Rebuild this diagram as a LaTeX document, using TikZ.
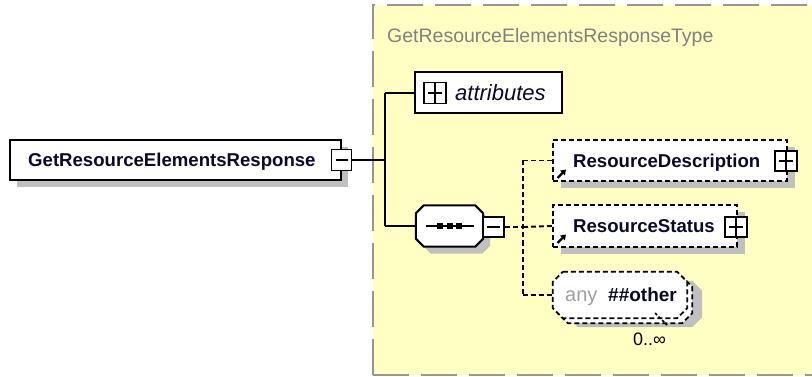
\documentclass[tikz,border=0pt]{standalone}
\usepackage{fontspec}
\setmainfont{Liberation Sans}
\usetikzlibrary{shadows,arrows.meta,calc}
\definecolor{bgyellow}{RGB}{255,255,196}
\definecolor{framegray}{RGB}{150,150,150}
\definecolor{shadowgray}{RGB}{192,192,192}
\definecolor{titlegray}{RGB}{128,128,128}
\definecolor{anygray}{RGB}{160,160,160}
\definecolor{namecol}{RGB}{10,10,40}
% octagon drawn on the border of a named node: options, node, chamfer, offset
\newcommand{\octshape}[4]{\path[#1] ($(#2.north west)+(#3,0)+(#4)$) -- ($(#2.north east)+(-#3,0)+(#4)$) -- ($(#2.north east)+(0,#3)+(#4)$) -- ($(#2.south east)+(0,-#3)+(#4)$) -- ($(#2.south east)+(-#3,0)+(#4)$) -- ($(#2.south west)+(#3,0)+(#4)$) -- ($(#2.south west)+(0,-#3)+(#4)$) -- ($(#2.north west)+(0,#3)+(#4)$) -- cycle;}
\begin{document}
\begin{tikzpicture}[x=1pt,y=-1pt,
  shad/.style={drop shadow={shadow xshift=7pt,shadow yshift=-7pt,opacity=1,fill=shadowgray}},
  elem/.style={draw=black,line width=2pt,fill=white,rectangle,inner sep=0pt},
  refelem/.style={elem,dash pattern=on 5pt off 3pt,line width=1.9pt},
  pmbox/.style={draw=black,line width=1.9pt,fill=white,rectangle,inner sep=0pt,minimum width=21pt,minimum height=20pt},
  minusbox/.style={pmbox,path picture={\draw[line width=1.8pt] ($(path picture bounding box.west)+(4,0)$) -- ($(path picture bounding box.east)+(-4,0)$);}},
  plusbox/.style={pmbox,path picture={\draw[line width=1.8pt] ($(path picture bounding box.west)+(4,0)$) -- ($(path picture bounding box.east)+(-4,0)$);
     \draw[line width=1.8pt] ($(path picture bounding box.north)+(0,-3.5)$) -- ($(path picture bounding box.south)+(0,3.5)$);}},
  namefont/.style={font=\bfseries\fontsize{18.6}{20}\selectfont,text=namecol,inner sep=0pt,anchor=base west},
  conn/.style={draw=black,line width=2pt},
  dconn/.style={draw=black,line width=1.9pt,dash pattern=on 5pt off 3pt},
  holder/.style={rectangle,inner sep=0pt},
  icon/.style={line width=2.4pt,-{Triangle[length=5pt,width=6.5pt]}}
]
\useasboundingbox (0,0) rectangle (812,377);
\clip (0,0) rectangle (812,377);

% complex type background
\path[fill=bgyellow] (373,5) rectangle (840,375);
\draw[framegray,line width=2.2pt,dash pattern=on 36pt off 12pt] (373,375) -- (373,5) -- (840,5);
\draw[framegray,line width=2.2pt,dash pattern=on 36pt off 12pt] (373,375) -- (840,375);
\node[font=\fontsize{19.5}{20}\selectfont,text=titlegray,inner sep=0pt,anchor=base west] (title) at (387,43) {GetResourceElementsResponseType};

% main element
\node[elem,shad,minimum width=331pt,minimum height=40pt] (main) at (175.5,160) {};
\node[namefont] (mainl) at (28,167) {GetResourceElementsResponse};
\node[minusbox,minimum width=20pt,minimum height=21pt] (mainm) at (341.5,160) {};

% attributes
\node[elem,minimum width=147pt,minimum height=41pt] (attr) at (488.5,93) {};
\node[plusbox,minimum width=22pt,minimum height=21pt] (attrp) at (435,93) {};
\node[font=\itshape\fontsize{22}{24}\selectfont,text=namecol,inner sep=0pt,anchor=base west] (attrl) at (455,100.5) {attributes};

% sequence
\node[holder,minimum width=67pt,minimum height=41pt] (seq) at (449.5,226) {};
\octshape{fill=shadowgray}{seq}{8}{7,7}
\octshape{draw=black,fill=white,line width=2pt}{seq}{8}{0,0}
\draw[line width=1.9pt] ($(seq.center)+(-24,0)$) -- ($(seq.center)+(24,0)$);
\foreach \dx in {-9.5,0,9.5} \fill ($(seq.center)+(\dx-3,-2.8)$) rectangle ++(6,5.6);
\node[minusbox] (seqm) at (493.5,227) {};

% connectors
\coordinate (jm) at (385,160);
\draw[conn] (mainm.east) -- (jm);
\draw[conn] (jm |- attr.west) -- (jm |- seq.west);
\draw[conn] (jm |- attr.west) -- (attr.west);
\draw[conn] (jm |- seq.west) -- (seq.west);

\coordinate (js) at (523,227);

% ResourceDescription
\node[refelem,drop shadow={shadow xshift=8pt,shadow yshift=-7pt,opacity=1,fill=shadowgray},minimum width=234pt,minimum height=41pt] (rd) at (670,160.5) {};
\node[namefont] (rdl) at (573,168) {ResourceDescription};
\node[plusbox,minimum width=22pt] (rdp) at (786,161) {};
\draw[icon] (557.5,178) -- (566,169.5);

% ResourceStatus
\node[refelem,drop shadow={shadow xshift=8pt,shadow yshift=-7pt,opacity=1,fill=shadowgray},minimum width=184pt,minimum height=42pt] (rs) at (645,226) {};
\node[namefont] (rsl) at (573,233) {ResourceStatus};
\node[plusbox,minimum width=22pt] (rsp) at (736,227) {};
\draw[icon] (557.5,243) -- (566,234.5);

% any
\node[holder,minimum width=134pt,minimum height=46pt] (anyb) at (625,300) {};
\node[holder,minimum width=134pt,minimum height=46pt] (anyf) at (620,295) {};
\octshape{fill=shadowgray}{anyb}{10}{10,4}
\octshape{draw=black,fill=white,line width=1.8pt,dash pattern=on 5pt off 3pt}{anyb}{10}{0,0}
\octshape{draw=black,fill=white,line width=1.8pt,dash pattern=on 5pt off 3pt}{anyf}{10}{0,0}
\draw[line width=1.6pt,dash pattern=on 3pt off 2pt] (655,313) -- (667,325);
\node[font=\fontsize{20}{22}\selectfont,text=anygray,inner sep=0pt,anchor=base west] (anyl) at (565,301) {any};
\node[font=\bfseries\fontsize{19}{21}\selectfont,text=namecol,inner sep=0pt,anchor=base west] (otherl) at (608,301) {\#\#other};
\node[font=\fontsize{18}{20}\selectfont,inner sep=0pt,anchor=base west] (card) at (633,345) {0..∞};

% dashed connectors
\draw[dconn] (seqm.east) -- (js);
\draw[dconn] (js |- rd.west) -- (js |- anyf.west);
\draw[dconn] (js |- rd.west) -- (rd.west);
\draw[dconn] (js) -- (rs.west);
\draw[dconn] (js |- anyf.west) -- (anyf.west);
\end{tikzpicture}
\end{document}
